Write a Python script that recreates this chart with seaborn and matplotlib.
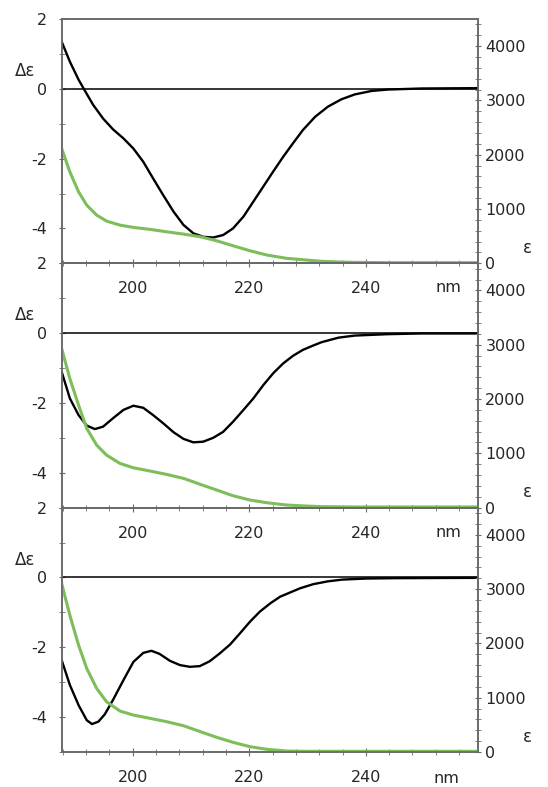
import numpy as np
import pandas as pd
import seaborn as sns
import matplotlib.pyplot as plt
from matplotlib.ticker import MultipleLocator

# wavelengths (nm) and CD (delta epsilon) / absorption (epsilon) readings
nm1_cd = [187.8, 189.2, 190.7, 191.8, 193.2, 194.9, 196.6, 198.4, 200.1, 201.8,
          203.5, 205.2, 207.0, 208.7, 210.4, 212.1, 213.8, 215.5, 217.2, 219.0,
          220.7, 222.4, 224.1, 225.8, 227.5, 229.2, 231.3, 233.5, 235.8, 238.1,
          241.0, 243.8, 249.5, 259.2]
cd1 = [1.35, 0.78, 0.26, -0.06, -0.46, -0.85, -1.16, -1.42, -1.71, -2.09,
       -2.57, -3.04, -3.52, -3.90, -4.14, -4.24, -4.26, -4.19, -4.00, -3.66,
       -3.23, -2.80, -2.37, -1.95, -1.56, -1.18, -0.80, -0.51, -0.30, -0.16,
       -0.06, -0.02, 0.01, 0.02]
nm1_abs = [187.8, 189.2, 190.7, 192.1, 193.8, 195.5, 197.8, 200.1, 203.0, 205.8,
           208.7, 211.6, 214.4, 217.2, 220.1, 223.0, 226.4, 229.8, 232.4, 235.3,
           238.1, 243.8, 259.2]
eps1 = [2114, 1684, 1316, 1072, 888, 778, 704, 662, 625, 581,
        539, 489, 415, 324, 232, 153, 92, 61, 37, 25,
        18, 12, 12]

nm2_cd = [187.8, 189.2, 190.7, 192.1, 193.5, 194.9, 196.6, 198.4, 200.1, 201.8,
          203.5, 205.2, 207.0, 208.7, 210.4, 212.1, 213.8, 215.5, 217.2, 219.0,
          220.7, 222.4, 224.1, 225.8, 227.5, 229.2, 230.9, 232.4, 235.3, 238.1,
          243.8, 249.5, 259.2]
cd2 = [-1.11, -1.87, -2.35, -2.65, -2.75, -2.68, -2.44, -2.20, -2.08, -2.14,
       -2.35, -2.58, -2.84, -3.03, -3.13, -3.11, -3.00, -2.83, -2.54, -2.20,
       -1.87, -1.49, -1.15, -0.87, -0.65, -0.48, -0.36, -0.26, -0.13, -0.07,
       -0.03, -0.01, -0.01]
nm2_abs = [187.8, 189.2, 190.7, 192.1, 193.8, 195.5, 197.8, 200.1, 203.0, 205.8,
           208.7, 211.6, 214.4, 217.2, 220.1, 223.0, 226.4, 229.8, 232.4, 238.1,
           259.2]
eps2 = [2928, 2377, 1886, 1458, 1151, 967, 814, 734, 673, 612,
        539, 428, 324, 219, 140, 90, 48, 29, 18, 12,
        12]

nm3_cd = [187.8, 189.2, 190.7, 192.1, 193.0, 194.1, 195.2, 196.6, 198.4, 200.1,
          201.8, 203.2, 204.6, 206.4, 208.1, 209.8, 211.5, 213.2, 214.9, 216.7,
          218.4, 220.1, 221.8, 223.6, 225.3, 227.0, 228.7, 231.0, 233.5, 236.0,
          240.0, 245.0, 259.2]
cd3 = [-2.37, -3.08, -3.66, -4.09, -4.20, -4.13, -3.92, -3.51, -2.94, -2.42,
       -2.16, -2.10, -2.19, -2.39, -2.51, -2.56, -2.54, -2.40, -2.18, -1.92,
       -1.60, -1.27, -0.98, -0.74, -0.55, -0.43, -0.31, -0.19, -0.11, -0.06,
       -0.03, -0.02, -0.01]
nm3_abs = [187.8, 189.2, 190.7, 192.1, 193.8, 195.5, 197.8, 200.1, 203.0, 205.8,
           208.7, 211.6, 214.4, 217.2, 220.1, 223.0, 226.4, 229.8, 259.2]
eps3 = [3101, 2518, 1967, 1538, 1170, 925, 754, 680, 619, 558,
        484, 374, 270, 178, 98, 49, 18, 12, 12]

x_ticks = [200, 220, 240]
de_ticks = [-4, -2, 0, 2]
eps_ticks = [0, 1000, 2000, 3000, 4000]

sns.set_style("ticks")
plt.rcParams["font.family"] = ["DejaVu Sans"]
plt.rcParams["font.size"] = 11
plt.rcParams["axes.unicode_minus"] = False

SPINE = "#6a6a6a"
GREEN = "#7dbd5a"


def draw_panel(ax, nm_cd, cd, nm_abs, eps, last=False):
    ax.patch.set_visible(False)
    df_cd = pd.DataFrame({"nm": nm_cd, "de": cd})
    df_abs = pd.DataFrame({"nm": nm_abs, "eps": eps})

    ax.axhline(0, color="black", lw=1.1, zorder=1)
    sns.lineplot(data=df_cd, x="nm", y="de", ax=ax, color="black", lw=1.7,
                 zorder=3, solid_joinstyle="round")

    ax2 = ax.twinx()
    sns.lineplot(data=df_abs, x="nm", y="eps", ax=ax2, color=GREEN, lw=2.2,
                 zorder=2, solid_joinstyle="round")

    ax.set_xlim(187.8, 259.2)
    ax.set_ylim(-5, 2)
    ax2.set_ylim(0, 4500)

    ax.set_xticks(x_ticks)
    ax.xaxis.set_minor_locator(MultipleLocator(4))
    ax.set_yticks(de_ticks)
    ax.yaxis.set_minor_locator(MultipleLocator(1))
    ax2.set_yticks(eps_ticks)
    ax2.yaxis.set_minor_locator(MultipleLocator(200))

    for a in (ax, ax2):
        a.set_xlabel("")
        a.set_ylabel("")
        for s in a.spines.values():
            s.set_color(SPINE)
            s.set_linewidth(1.2)
            s.set_visible(True)

    ax.tick_params(axis="x", which="major", direction="inout", length=6,
                   color=SPINE, pad=10, labelsize=11.5)
    ax.tick_params(axis="x", which="minor", direction="inout", length=4, color=SPINE)
    ax.tick_params(axis="y", which="major", direction="inout", length=5,
                   color=SPINE, pad=8, labelsize=11.5)
    ax.tick_params(axis="y", which="minor", direction="inout", length=4, color=SPINE)
    ax2.tick_params(axis="y", which="major", direction="inout", length=5,
                    color=SPINE, pad=3, labelsize=11.5)
    ax2.tick_params(axis="y", which="minor", direction="inout", length=4, color=SPINE)

    ax.text(-0.087, 0.787, "Δε", transform=ax.transAxes, ha="center",
            va="center", fontsize=12)
    ax2.text(1.12, 0.062, "ε", transform=ax.transAxes, ha="center",
             va="center", fontsize=12)
    nm_x, nm_y = (0.925, -0.11) if last else (0.93, -0.10)
    ax.text(nm_x, nm_y, "nm", transform=ax.transAxes, ha="center",
            va="center", fontsize=11.5)
    return ax2


fig = plt.figure(figsize=(5.48, 7.87), dpi=100)
left, width, height = 0.1126, 0.7591, 0.3104
bottoms = [0.6654, 0.355, 0.0445]
panels = [(nm1_cd, cd1, nm1_abs, eps1),
          (nm2_cd, cd2, nm2_abs, eps2),
          (nm3_cd, cd3, nm3_abs, eps3)]

for i, (b, p) in enumerate(zip(bottoms, panels)):
    ax = fig.add_axes([left, b, width, height])
    draw_panel(ax, *p, last=(i == 2))

fig.savefig("out.png", dpi=100, facecolor="white")
